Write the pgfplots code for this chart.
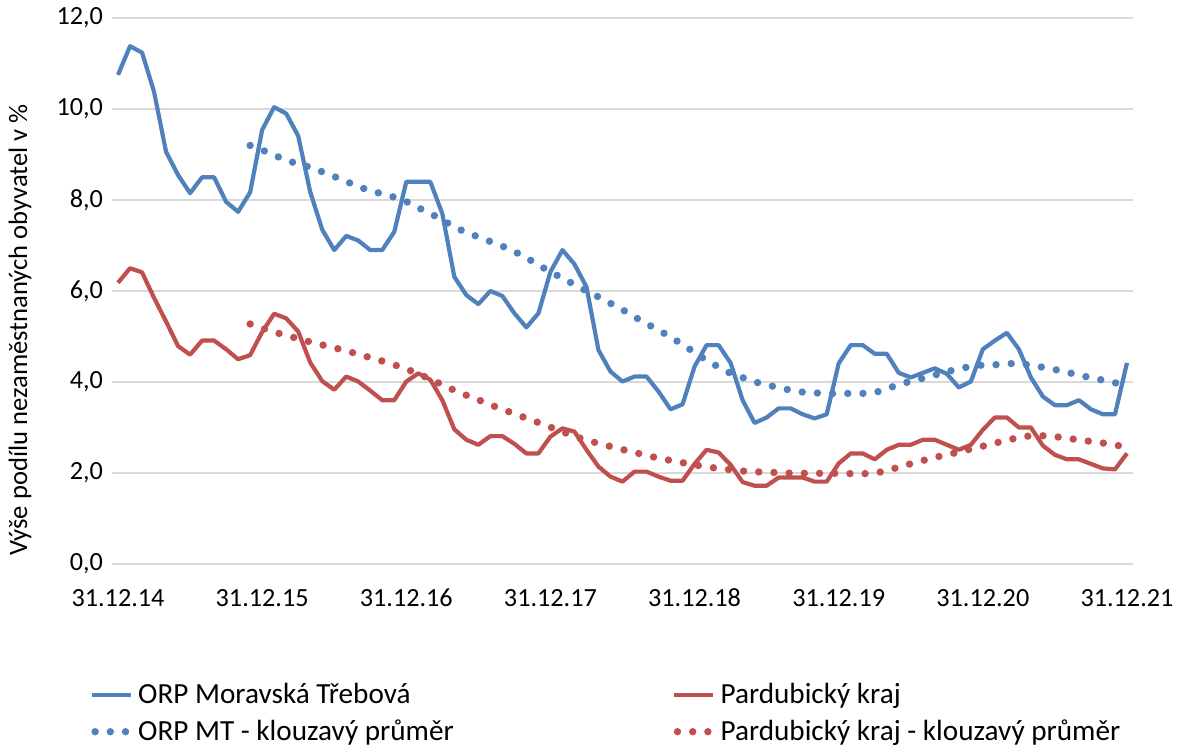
\documentclass[border=0pt]{standalone}
\usepackage{fontspec}
\setmainfont{Carlito}
\usepackage{pgfplots}
\usepackage{pgfplotstable}
\pgfplotsset{compat=1.18}
\definecolor{cblue}{RGB}{79,129,189}
\definecolor{cred}{RGB}{192,80,77}
\definecolor{cgrid}{RGB}{217,217,217}
\pgfplotsset{
  lineleg/.style={legend image code/.code={\draw[##1] (0pt,0pt) -- (19.5pt,0pt);}},
  dotleg/.style={legend image code/.code={\draw[##1] (1.8pt,0pt) -- (19.5pt,0pt);}},
}

\pgfplotstableread{
i b r
0 10.75 6.18
1 11.38 6.50
2 11.24 6.41
3 10.38 5.85
4 9.06 5.33
5 8.55 4.79
6 8.15 4.60
7 8.50 4.91
8 8.50 4.91
9 7.96 4.72
10 7.74 4.50
11 8.17 4.59
12 9.54 5.10
13 10.04 5.50
14 9.90 5.40
15 9.41 5.11
16 8.18 4.43
17 7.35 4.02
18 6.90 3.83
19 7.21 4.12
20 7.11 4.01
21 6.90 3.81
22 6.90 3.60
23 7.30 3.60
24 8.40 4.01
25 8.40 4.19
26 8.40 4.05
27 7.70 3.60
28 6.31 2.96
29 5.91 2.73
30 5.71 2.62
31 6.00 2.81
32 5.89 2.81
33 5.51 2.64
34 5.20 2.43
35 5.51 2.43
36 6.42 2.80
37 6.90 2.98
38 6.59 2.91
39 6.09 2.51
40 4.70 2.14
41 4.23 1.92
42 4.01 1.81
43 4.12 2.03
44 4.12 2.03
45 3.79 1.92
46 3.40 1.83
47 3.51 1.83
48 4.34 2.20
49 4.81 2.51
50 4.81 2.45
51 4.42 2.18
52 3.60 1.80
53 3.10 1.72
54 3.22 1.72
55 3.42 1.90
56 3.42 1.90
57 3.29 1.90
58 3.20 1.81
59 3.29 1.81
60 4.41 2.21
61 4.81 2.43
62 4.81 2.43
63 4.62 2.30
64 4.62 2.51
65 4.20 2.62
66 4.10 2.62
67 4.20 2.73
68 4.30 2.73
69 4.18 2.62
70 3.88 2.51
71 4.01 2.62
72 4.72 2.95
73 4.91 3.22
74 5.08 3.22
75 4.72 3.00
76 4.10 3.00
77 3.68 2.60
78 3.49 2.40
79 3.49 2.30
80 3.60 2.30
81 3.40 2.20
82 3.29 2.10
83 3.29 2.08
84 4.42 2.43
}\maindata

\pgfplotstableread{
i bma rma
11 9.198 5.274
12 9.098 5.184
13 8.986 5.101
14 8.874 5.017
15 8.793 4.955
16 8.720 4.880
17 8.620 4.816
18 8.516 4.752
19 8.408 4.686
20 8.293 4.611
21 8.204 4.535
22 8.134 4.460
23 8.062 4.378
24 7.967 4.287
25 7.830 4.178
26 7.705 4.065
27 7.563 3.939
28 7.407 3.817
29 7.287 3.709
30 7.188 3.608
31 7.087 3.499
32 6.985 3.399
33 6.869 3.302
34 6.728 3.204
35 6.578 3.107
36 6.413 3.006
37 6.288 2.905
38 6.138 2.810
39 6.003 2.719
40 5.869 2.651
41 5.729 2.583
42 5.588 2.516
43 5.431 2.451
44 5.283 2.386
45 5.140 2.326
46 4.990 2.276
47 4.823 2.226
48 4.650 2.176
49 4.476 2.137
50 4.328 2.098
51 4.188 2.071
52 4.097 2.043
53 4.003 2.026
54 3.937 2.018
55 3.878 2.008
56 3.820 1.997
57 3.778 1.995
58 3.762 1.993
59 3.743 1.992
60 3.749 1.993
61 3.749 1.986
62 3.749 1.984
63 3.766 1.994
64 3.851 2.053
65 3.943 2.128
66 4.016 2.203
67 4.081 2.273
68 4.154 2.342
69 4.228 2.402
70 4.285 2.460
71 4.345 2.528
72 4.371 2.589
73 4.379 2.655
74 4.402 2.721
75 4.410 2.779
76 4.367 2.820
77 4.323 2.818
78 4.273 2.800
79 4.213 2.764
80 4.155 2.728
81 4.090 2.693
82 4.041 2.659
83 3.981 2.614
84 3.956 2.571
}\madata

\begin{document}
\begin{tikzpicture}
\useasboundingbox (-56pt,-92pt) rectangle (534pt,282pt);
\begin{axis}[
  at={(0,0)}, anchor=south west,
  scale only axis, width=510.5pt, height=273pt,
  xmin=-0.5, xmax=84.5, ymin=0, ymax=12,
  xtick={0,12,24,36,48,60,72,84},
  xticklabels={31.12.14,31.12.15,31.12.16,31.12.17,31.12.18,31.12.19,31.12.20,31.12.21},
  ytick={0,2,4,6,8,10,12},
  ymajorgrids, grid style={cgrid, line width=0.7pt},
  axis line style={draw=none},
  major tick length=0pt,
  tick label style={font=\fontsize{13.1}{15}\selectfont, text=black},
  /pgf/number format/fixed,
  /pgf/number format/fixed zerofill,
  /pgf/number format/precision=1,
  /pgf/number format/use comma,
  /pgf/number format/assume math mode=true,
  yticklabel style={xshift=-1pt},
  xticklabel style={yshift=-9pt},
  ylabel={Výše podílu nezaměstnaných obyvatel v \%},
  every axis y label/.style={at={(axis description cs:-0.0901,0.4286)}, rotate=90, anchor=center, font=\fontsize{13.3}{15}\selectfont},
  clip=false,
  legend columns=2,
  legend cell align=left,
  legend style={at={(axis description cs:-0.0225,-0.211)}, anchor=north west, draw=none, fill=none, inner sep=0pt,
    font=\fontsize{14.6}{17}\selectfont,
    /tikz/every even column/.append style={column sep=107pt},
    row sep=2.5pt},
]
\addplot[cblue, line width=2.1pt, line join=round, lineleg] table[x=i, y=b] {\maindata};
\addlegendentry{ORP Moravská Třebová}
\addplot[cred, line width=2.1pt, line join=round, lineleg] table[x=i, y=r] {\maindata};
\addlegendentry{Pardubický kraj}
\addplot[cblue, line width=3.7pt, line cap=round, dash pattern=on 0pt off 7.6pt, dotleg] table[x=i, y=bma] {\madata};
\addlegendentry{ORP MT - klouzavý průměr}
\addplot[cred, line width=3.7pt, line cap=round, dash pattern=on 0pt off 7.6pt, dotleg] table[x=i, y=rma] {\madata};
\addlegendentry{Pardubický kraj - klouzavý průměr}
\end{axis}
\end{tikzpicture}
\end{document}
